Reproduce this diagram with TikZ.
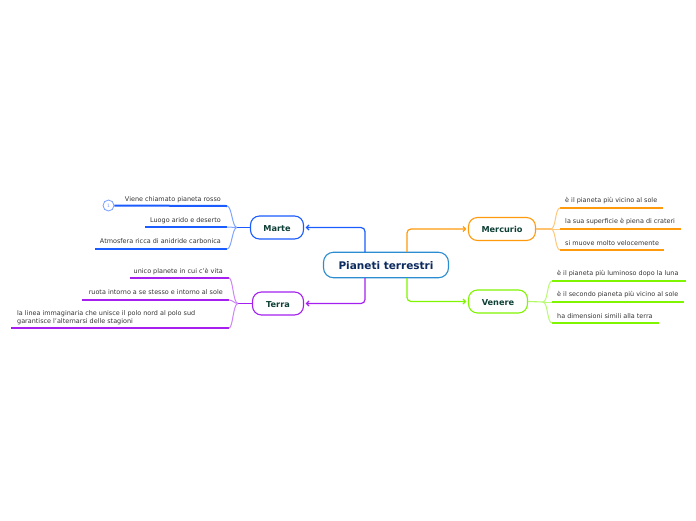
\documentclass[tikz,border=0pt]{standalone}
\usepackage{fontspec}
\setmainfont{DejaVu Sans}
\usetikzlibrary{arrows.meta}
\definecolor{cblue}{HTML}{1A5CFF}
\definecolor{cpurple}{HTML}{A51FF0}
\definecolor{corange}{HTML}{FF9A0D}
\definecolor{cgreen}{HTML}{80F500}
\definecolor{croot}{HTML}{2B8CCF}
\definecolor{ctxt}{HTML}{333333}
\definecolor{cnode}{HTML}{0F4037}
\definecolor{croottxt}{HTML}{0B2A5E}
\tikzset{
  x=1pt,y=-1pt,
  rootbox/.style={draw=croot,line width=1.1pt,fill=white,rounded corners=10pt,minimum width=125pt,minimum height=25.5pt,inner sep=0pt,text=croottxt,text height=9.6pt,text depth=0pt,font=\fontsize{10.5}{12}\selectfont\bfseries},
  topic/.style={draw=#1,line width=1.1pt,fill=white,rounded corners=9pt,minimum height=23pt,inner sep=0pt,text=cnode,text height=7.6pt,text depth=0pt,font=\fontsize{8.2}{10}\selectfont\bfseries},
  leaf/.style={inner sep=0pt,text=ctxt,font=\fontsize{6.45}{8}\selectfont,align=left},
  link/.style={draw=#1,line width=1.2pt,rounded corners=4pt,-{Straight Barb[length=2.6pt,width=5pt]}},
  uline/.style={draw=#1,line width=2pt},
  fork/.style={draw=#1!55!white,line width=1pt},
  stub/.style={draw=#1,line width=1.1pt}
}
\begin{document}
\begin{tikzpicture}
\useasboundingbox (0,0) rectangle (696,520);
% main nodes
\node[rootbox] (root) at (386,265) {Pianeti terrestri};
\node[topic=cblue,minimum width=53pt] (marte) at (277,227.5) {Marte};
\node[topic=cpurple,minimum width=51pt] (terra) at (278,303.5) {Terra};
\node[topic=corange,minimum width=67pt] (mercurio) at (502,229) {Mercurio};
\node[topic=cgreen,minimum width=59pt] (venere) at (498,301.5) {Venere};
% root links
\coordinate (rm) at (365,252); \coordinate (rt) at (365,278);
\coordinate (rr) at (407,252); \coordinate (rv) at (407,278);
\draw[link=cblue] (rm) |- ([xshift=1.5pt]marte.east);
\draw[link=cpurple] (rt) |- ([xshift=1.5pt]terra.east);
\draw[link=corange] (rr) |- ([xshift=-1.5pt]mercurio.west);
\draw[link=cgreen] (rv) |- ([xshift=-1.5pt]venere.west);
% Marte
\coordinate (mf) at (237,227.5);
\coordinate (ma) at (227,206); \coordinate (mb) at (227,227); \coordinate (mc) at (227,249);
\node[circle,draw=cblue!60!white,line width=.8pt,minimum size=11pt,inner sep=0pt,text=cblue!60!white,font=\fontsize{4.5}{5}\selectfont] (mi) at (108.5,205.5) {1};
\coordinate (mbe) at (145,227); \coordinate (mce) at (95,249);
\node[leaf,anchor=base east] (m1) at (221,201) {Viene chiamato pianeta rosso};
\node[leaf,anchor=base east] (m2) at (221,222) {Luogo arido e deserto};
\node[leaf,anchor=base east] (m3) at (221,243.7) {Atmosfera ricca di anidride carbonica};
\draw[uline=cblue] (mi.east) -- (ma);
\draw[uline=cblue] (mbe) -- (mb);
\draw[uline=cblue] (mce) -- (mc);
\draw[stub=cblue] (marte.west) -- (mf);
\draw[fork=cblue] (mf) .. controls (232,227.5) and (232,206) .. (ma);
\draw[fork=cblue] (mf) -- (mb);
\draw[fork=cblue] (mf) .. controls (232,227.5) and (232,249) .. (mc);
% Terra
\coordinate (tf) at (238,303.5);
\coordinate (ta) at (229,278); \coordinate (tb) at (229,300); \coordinate (tc) at (229,328);
\coordinate (tae) at (130,278); \coordinate (tbe) at (82,300); \coordinate (tce) at (11,328);
\node[leaf,anchor=base east] (t1) at (223,273.7) {unico planete in cui c'è vita};
\node[leaf,anchor=base east] (t2) at (223,294.7) {ruota intorno a se stesso e intorno al sole};
\node[leaf,anchor=west] (t3) at (17,318) {la linea immaginaria che unisce il polo nord al polo sud\\garantisce l'alternarsi delle stagioni};
\draw[uline=cpurple] (tae) -- (ta);
\draw[uline=cpurple] (tbe) -- (tb);
\draw[uline=cpurple] (tce) -- (tc);
\draw[stub=cpurple] (terra.west) -- (tf);
\draw[fork=cpurple] (tf) .. controls (233,303.5) and (233,278) .. (ta);
\draw[fork=cpurple] (tf) .. controls (234,303.5) and (233,300) .. (tb);
\draw[fork=cpurple] (tf) .. controls (233,303.5) and (233,328) .. (tc);
% Mercurio
\coordinate (rf) at (551,229);
\coordinate (ra) at (560,208); \coordinate (rb) at (560,229); \coordinate (rc) at (560,250);
\coordinate (rae) at (663,208); \coordinate (rbe) at (681,229); \coordinate (rce) at (664,250);
\node[leaf,anchor=base west] (r1) at (565,202.7) {è il pianeta più vicino al sole};
\node[leaf,anchor=base west] (r2) at (565,223.7) {la sua superficie è piena di crateri};
\node[leaf,anchor=base west] (r3) at (565,245) {si muove molto velocemente};
\draw[uline=corange] (ra) -- (rae);
\draw[uline=corange] (rb) -- (rbe);
\draw[uline=corange] (rc) -- (rce);
\draw[stub=corange!60!white] (mercurio.east) -- (rf);
\draw[fork=corange] (rf) .. controls (556,229) and (555,208) .. (ra);
\draw[fork=corange] (rf) -- (rb);
\draw[fork=corange] (rf) .. controls (556,229) and (555,250) .. (rc);
% Venere
\coordinate (vf) at (543,302);
\coordinate (va) at (552,281); \coordinate (vb) at (552,302); \coordinate (vc) at (552,323);
\coordinate (vae) at (686,281); \coordinate (vbe) at (684,302); \coordinate (vce) at (659,323);
\node[leaf,anchor=base west] (v1) at (557,275) {è il pianeta più luminoso dopo la luna};
\node[leaf,anchor=base west] (v2) at (557,296.7) {è il secondo pianeta più vicino al sole};
\node[leaf,anchor=base west] (v3) at (557,318) {ha dimensioni simili alla terra};
\draw[uline=cgreen] (va) -- (vae);
\draw[uline=cgreen] (vb) -- (vbe);
\draw[uline=cgreen] (vc) -- (vce);
\draw[stub=cgreen!60!white] (venere.east) -- (vf);
\draw[fork=cgreen] (vf) .. controls (548,302) and (547,281) .. (va);
\draw[fork=cgreen] (vf) -- (vb);
\draw[fork=cgreen] (vf) .. controls (548,302) and (547,323) .. (vc);
\end{tikzpicture}
\end{document}
